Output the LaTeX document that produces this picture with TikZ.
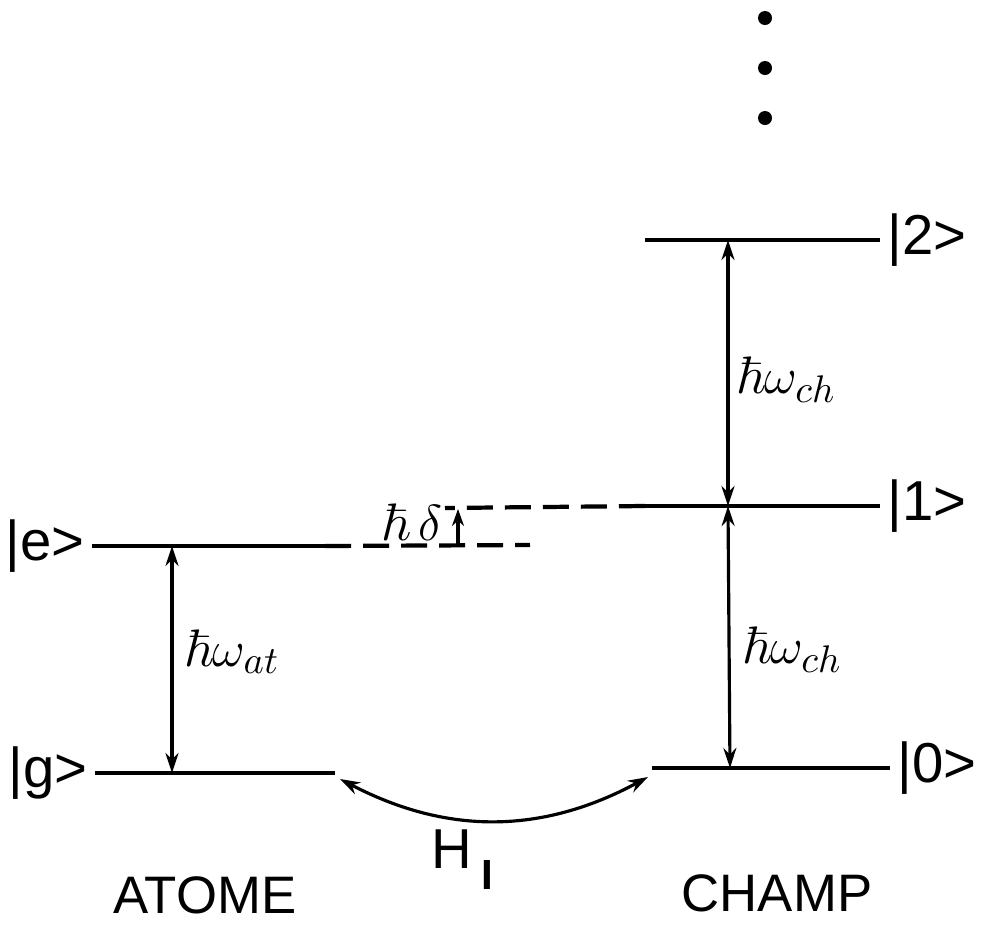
\documentclass[tikz,border=0pt]{standalone}
\usepackage{amsmath,amssymb}
\usepackage[no-math]{fontspec}
\setmainfont{Liberation Sans}
\usetikzlibrary{arrows.meta}

\begin{document}
\begin{tikzpicture}[
        x=0.01cm,y=-0.01cm,
        level/.style={line width=1.4pt},
        gap/.style={<->,line width=0.9pt},
        offset/.style={line width=1.2pt,dash pattern=on 0.26cm off 0.12cm},
        ket/.style={font=\fontsize{16}{19}\selectfont,inner sep=2pt},
        energy/.style={font=\fontsize{15}{18}\selectfont},
        title/.style={font=\fontsize{15}{18}\selectfont},
        dot/.style={circle,fill,inner sep=0pt,minimum size=0.14cm},
        >={Stealth[length=0.2cm,width=0.13cm]}
    ]
        \useasboundingbox (0,0) rectangle (987,930);

        % dots above the field ladder
        \node[dot] (d1) at (765,18) {};
        \node[dot] (d2) at (765,68) {};
        \node[dot] (d3) at (765,118) {};

        % atom levels
        \coordinate (e1) at (92,546);
        \coordinate (e2) at (325,546);
        \coordinate (g1) at (95,773);
        \coordinate (g2) at (335,773);
        \draw[level] (e1) -- (e2);
        \draw[level] (g1) -- (g2);
        \node[ket,anchor=east] (ke) at (e1) {|e>};
        \node[ket,anchor=east] (kg) at (g1) {|g>};

        % field levels
        \coordinate (f2a) at (645,240);
        \coordinate (f2b) at (880,240);
        \coordinate (f1a) at (645,506);
        \coordinate (f1b) at (880,506);
        \coordinate (f0a) at (652,768);
        \coordinate (f0b) at (890,768);
        \draw[level] (f2a) -- (f2b);
        \draw[level] (f1a) -- (f1b);
        \draw[level] (f0a) -- (f0b);
        \node[ket,anchor=west] (k2) at (f2b) {|2>};
        \node[ket,anchor=west] (k1) at (f1b) {|1>};
        \node[ket,anchor=west] (k0) at (f0b) {|0>};

        % detuning
        \coordinate (de) at (530,545);
        \coordinate (d1a) at (445,508);
        \draw[offset] (e2) -- (de);
        \draw[offset] (f1a) -- (d1a);
        \coordinate (da) at (458,545);
        \coordinate (db) at (458,509);
        \draw[->,line width=0.9pt,>={Stealth[length=0.17cm,width=0.12cm]}] (da) -- (db);
        \node[energy] (hd) at (412,522) {$\hbar\,\delta$};

        % transition energies
        \coordinate (at1) at (172,546);
        \coordinate (at2) at (172,773);
        \draw[gap] (at1) -- (at2);
        \node[energy] (wat) at (232,652) {$\hbar\omega_{at}$};

        \coordinate (ch2) at (728,240);
        \coordinate (ch1) at (728,506);
        \coordinate (ch0) at (730,768);
        \draw[gap] (ch2) -- (ch1);
        \draw[gap] (ch1) -- (ch0);
        \node[energy] (wch2) at (786,380) {$\hbar\omega_{ch}$};
        \node[energy] (wch1) at (792,650) {$\hbar\omega_{ch}$};

        % coupling
        \coordinate (hl) at (340,779);
        \coordinate (hr) at (648,777);
        \draw[gap] (hl) to[bend right=28] (hr);
        \node[ket] (hi) at (462,860) {H\,\raisebox{-0.7ex}{\fontsize{12}{14}\selectfont\bfseries I}};

        \node[title] (atome) at (205,895) {ATOME};
        \node[title] (champ) at (777,893) {CHAMP};
    \end{tikzpicture}
\end{document}
